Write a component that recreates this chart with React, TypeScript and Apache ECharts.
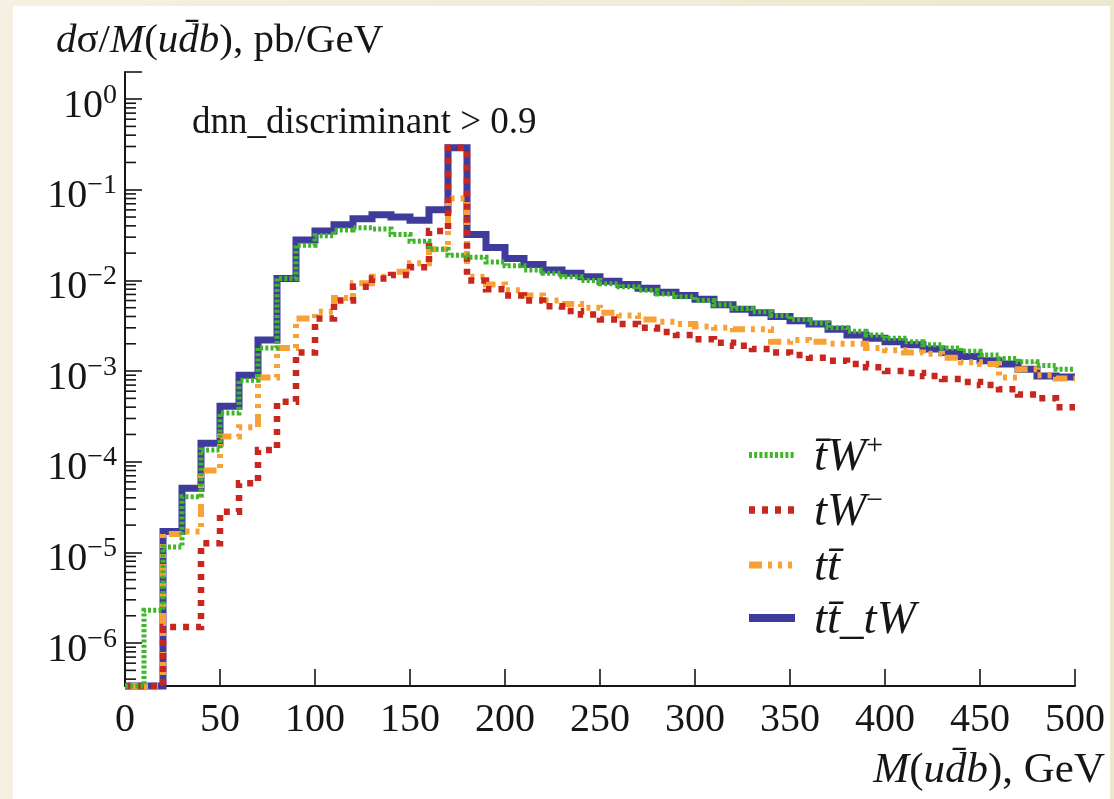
import React, { useEffect, useRef } from "react";
import * as echarts from "echarts";

// Histogram binning (GeV) and axis ranges
const BIN_WIDTH = 10;
const X_MIN = 0;
const X_MAX = 500;
const X_INTERVAL = 50;
const Y_MIN = 3.36e-7;
const Y_MAX = 1.99;

// dσ/dM per 10 GeV bin, pb/GeV (0 = empty bin, drawn on the axis floor)
const TBAR_W_PLUS = [
  0, 2.3e-6, 1.15e-5, 4.1e-5, 1.35e-4, 3.45e-4, 7.9e-4, 1.8e-3, 1.05e-2, 2.45e-2,
  3.1e-2, 3.6e-2, 3.8e-2, 3.7e-2, 3.2e-2, 2.7e-2, 2.2e-2, 1.9e-2, 1.8e-2, 1.6e-2,
  1.45e-2, 1.3e-2, 1.2e-2, 1.1e-2, 1.0e-2, 9.2e-3, 8.5e-3, 7.8e-3, 7.1e-3, 6.6e-3,
  6.0e-3, 5.4e-3, 4.9e-3, 4.5e-3, 4.1e-3, 3.7e-3, 3.4e-3, 3.0e-3, 2.75e-3, 2.5e-3,
  2.3e-3, 2.1e-3, 1.95e-3, 1.8e-3, 1.65e-3, 1.5e-3, 1.38e-3, 1.27e-3, 1.15e-3, 1.05e-3,
];

const T_W_MINUS = [
  0, 0, 1.5e-6, 1.5e-6, 1.26e-5, 2.8e-5, 5.8e-5, 1.35e-4, 4.6e-4, 1.6e-3,
  3.8e-3, 6.0e-3, 8.5e-3, 1.05e-2, 1.15e-2, 1.4e-2, 3.5e-2, 0.29, 1.0e-2, 8.0e-3,
  6.8e-3, 6.0e-3, 5.2e-3, 4.6e-3, 4.2e-3, 3.7e-3, 3.3e-3, 3.0e-3, 2.7e-3, 2.5e-3,
  2.25e-3, 2.05e-3, 1.9e-3, 1.75e-3, 1.6e-3, 1.5e-3, 1.4e-3, 1.3e-3, 1.2e-3, 1.1e-3,
  1.0e-3, 9.5e-4, 8.8e-4, 8.2e-4, 7.6e-4, 7.0e-4, 6.3e-4, 5.5e-4, 5.0e-4, 4.0e-4,
];

const TTBAR = [
  0, 0, 1.6e-5, 1.7e-5, 8.0e-5, 1.9e-4, 2.4e-4, 8.5e-4, 1.8e-3, 3.8e-3,
  4.5e-3, 6.4e-3, 9.3e-3, 1.1e-2, 1.25e-2, 1.55e-2, 2.2e-2, 8.0e-2, 1.1e-2, 9.0e-3,
  7.8e-3, 6.8e-3, 6.0e-3, 5.5e-3, 5.0e-3, 4.4e-3, 4.1e-3, 3.7e-3, 3.5e-3, 3.3e-3,
  3.1e-3, 3.0e-3, 2.9e-3, 2.9e-3, 2.1e-3, 2.2e-3, 2.1e-3, 2.0e-3, 2.0e-3, 1.8e-3,
  1.7e-3, 1.6e-3, 1.55e-3, 1.4e-3, 1.25e-3, 1.2e-3, 8.5e-4, 1.05e-3, 9.0e-4, 8.3e-4,
];

const TTBAR_TW = [
  0, 0, 1.7e-5, 5.1e-5, 1.6e-4, 4.1e-4, 9.0e-4, 2.2e-3, 1.05e-2, 2.8e-2,
  3.5e-2, 4.1e-2, 4.8e-2, 5.3e-2, 5.0e-2, 4.6e-2, 6.0e-2, 0.29, 3.2e-2, 2.3e-2,
  1.75e-2, 1.5e-2, 1.3e-2, 1.2e-2, 1.1e-2, 9.8e-3, 9.0e-3, 8.2e-3, 7.4e-3, 6.8e-3,
  6.2e-3, 5.4e-3, 4.8e-3, 4.4e-3, 4.0e-3, 3.6e-3, 3.3e-3, 2.9e-3, 2.5e-3, 2.3e-3,
  2.1e-3, 1.95e-3, 1.75e-3, 1.6e-3, 1.45e-3, 1.3e-3, 1.2e-3, 1.05e-3, 8.8e-4, 8.6e-4,
];

const FONT = '"Liberation Serif", "Times New Roman", serif';
const INK = "#161616";

// Series styling, in legend order
const SERIES = [
  {
    name: "t̄W+",
    label: "{i|t̄W}{s|+}",
    values: TBAR_W_PLUS,
    color: "#3fb52a",
    width: 5,
    dash: [3, 2.2],
    z: 6,
  },
  {
    name: "tW−",
    label: "{i|tW}{s|−}",
    values: T_W_MINUS,
    color: "#c9261f",
    width: 6.5,
    dash: [6, 7],
    z: 5,
  },
  {
    name: "tt̄",
    label: "{i|tt̄}",
    values: TTBAR,
    color: "#f8a136",
    width: 6,
    dash: [13, 6, 4, 6, 4, 6, 4, 6],
    z: 4,
  },
  {
    name: "tt̄_tW",
    label: "{i|tt̄_tW}",
    values: TTBAR_TW,
    color: "#3f3b9d",
    width: 7,
    dash: null as number[] | null,
    z: 3,
  },
];

// Legend placement
const LEGEND_X = 749;
const LEGEND_LINE_LEN = 46;
const LEGEND_TEXT_X = 814;
const LEGEND_ROWS_Y = [455, 510, 565, 618];

// Histogram outline: one point per lower bin edge, plus the closing upper edge
function histogramPoints(values: number[]): number[][] {
  const pts = values.map((v, i) => [X_MIN + i * BIN_WIDTH, v > 0 ? v : Y_MIN]);
  pts.push([X_MIN + values.length * BIN_WIDTH, pts[pts.length - 1][1]]);
  return pts;
}

// Minor ticks of the log axis: 2..9 × 10^k inside the visible range
function minorTicks(): number[] {
  const out: number[] = [];
  for (let k = -7; k <= 0; k++) {
    for (let m = 2; m <= 9; m++) {
      const v = m * Math.pow(10, k);
      if (v > Y_MIN && v < Y_MAX) out.push(v);
    }
  }
  return out;
}

function powerLabel(value: number): string {
  const e = Math.log10(value);
  const r = Math.round(e);
  if (Math.abs(e - r) > 1e-6) return "";
  const exp = r === 0 ? "0" : r < 0 ? "\u2212" + Math.abs(r) : String(r);
  return `{b|10}{e|${exp}}`;
}

function buildOption(): echarts.EChartsOption {
  const lineSeries = SERIES.map((s) => ({
    type: "line" as const,
    name: s.name,
    data: histogramPoints(s.values),
    step: "end" as const,
    symbol: "none",
    showSymbol: false,
    clip: false,
    silent: true,
    z: s.z,
    lineStyle: {
      color: s.color,
      width: s.width,
      type: s.dash ? s.dash : "solid",
      cap: "butt" as const,
      join: "miter" as const,
    },
  }));

  const minorTickSeries = {
    type: "custom" as const,
    name: "minor-ticks",
    coordinateSystem: "cartesian2d",
    silent: true,
    clip: false,
    z: 8,
    data: minorTicks().map((v) => [X_MIN, v]),
    renderItem: (_params: any, api: any) => {
      const p = api.coord([X_MIN, api.value(1)]);
      return {
        type: "line",
        shape: { x1: p[0], y1: p[1], x2: p[0] + 11, y2: p[1] },
        style: { stroke: INK, lineWidth: 1.6 },
      };
    },
  };

  const legendElements: any[] = [];
  SERIES.forEach((s, i) => {
    const y = LEGEND_ROWS_Y[i];
    legendElements.push({
      type: "line",
      silent: true,
      shape: { x1: LEGEND_X, y1: y, x2: LEGEND_X + LEGEND_LINE_LEN, y2: y },
      style: {
        stroke: s.color,
        lineWidth: s.width + 1,
        lineDash: s.dash ? s.dash : null,
        lineCap: "butt",
      },
      z: 10,
    });
    legendElements.push({
      type: "text",
      silent: true,
      x: LEGEND_TEXT_X,
      y: y - 1,
      z: 10,
      style: {
        text: s.label,
        align: "left",
        verticalAlign: "middle",
        fill: INK,
        rich: {
          i: { fontFamily: FONT, fontStyle: "italic", fontSize: 47, lineHeight: 52, fill: INK },
          s: {
            fontFamily: FONT,
            fontSize: 30,
            lineHeight: 34,
            verticalAlign: "top",
            fill: INK,
          },
        },
      },
    });
  });

  const nameRich = (size: number) => ({
    i: { fontFamily: FONT, fontStyle: "italic" as const, fontWeight: "normal" as const, fontSize: size, color: INK },
    r: { fontFamily: FONT, fontStyle: "normal" as const, fontWeight: "normal" as const, fontSize: size, color: INK },
  });

  return {
    animation: false,
    backgroundColor: "transparent",
    title: [
      {
        text: "{i|d}{r|σ/}{i|M}{r|(}{i|ud̄b}{r|), pb/GeV}",
        left: 56,
        top: 17,
        padding: 0,
        textStyle: { fontWeight: "normal", rich: nameRich(41) },
      },
      {
        text: "dnn_discriminant > 0.9",
        left: 192,
        top: 102,
        padding: 0,
        textStyle: { fontFamily: FONT, fontSize: 37, fontWeight: "normal", color: INK },
      },
    ],
    graphic: [
      {
        type: "rect",
        silent: true,
        z: -2,
        shape: { x: 0, y: 0, width: 1114, height: 799 },
        style: {
          fill: {
            type: "linear",
            x: 0,
            y: 0,
            x2: 1,
            y2: 0,
            colorStops: [
              { offset: 0, color: "#f4f1e3" },
              { offset: 1, color: "#eee7cf" },
            ],
          } as any,
        },
      },
      {
        type: "rect",
        silent: true,
        z: -1,
        shape: { x: 13, y: 6, width: 1097, height: 793 },
        style: { fill: "#ffffff" },
      },
      ...legendElements,
    ],
    grid: { left: 125, right: 39, top: 72, bottom: 113, containLabel: false },
    xAxis: {
      type: "value",
      min: X_MIN,
      max: X_MAX,
      interval: X_INTERVAL,
      name: "{i|M}{r|(}{i|ud̄b}{r|), GeV}",
      nameLocation: "end",
      nameGap: 30,
      nameTextStyle: {
        align: "right",
        verticalAlign: "top",
        padding: [60, 0, 0, 0],
        rich: nameRich(43),
      },
      axisLine: { show: true, lineStyle: { color: INK, width: 2 } },
      axisTick: { show: true, inside: true, length: 17, lineStyle: { color: INK, width: 1.6 } },
      axisLabel: { fontFamily: FONT, fontSize: 40, color: INK, margin: 11 },
      splitLine: { show: false },
    },
    yAxis: {
      type: "log",
      logBase: 10,
      min: Y_MIN,
      max: Y_MAX,
      axisLine: { show: true, lineStyle: { color: INK, width: 2 } },
      axisTick: { show: true, inside: true, length: 17, lineStyle: { color: INK, width: 1.6 } },
      axisLabel: {
        margin: 8,
        color: INK,
        formatter: (v: number) => powerLabel(v),
        rich: {
          b: { fontFamily: FONT, fontSize: 40, lineHeight: 40, padding: [8, 0, 0, 0], color: INK },
          e: { fontFamily: FONT, fontSize: 28, lineHeight: 30, verticalAlign: "top", color: INK },
        },
      },
      splitLine: { show: false },
      minorTick: { show: false },
    },
    series: [...lineSeries.slice().reverse(), minorTickSeries] as any,
  };
}

export default function App() {
  const ref = useRef<HTMLDivElement>(null);

  useEffect(() => {
    if (!ref.current) return;
    const chart = echarts.init(ref.current, null, { renderer: "svg" });
    chart.setOption(buildOption());
    return () => {
      chart.dispose();
    };
  }, []);

  return (
    <div
      ref={ref}
      style={{ position: "fixed", left: 0, top: 0, width: 1114, height: 799 }}
    />
  );
}
